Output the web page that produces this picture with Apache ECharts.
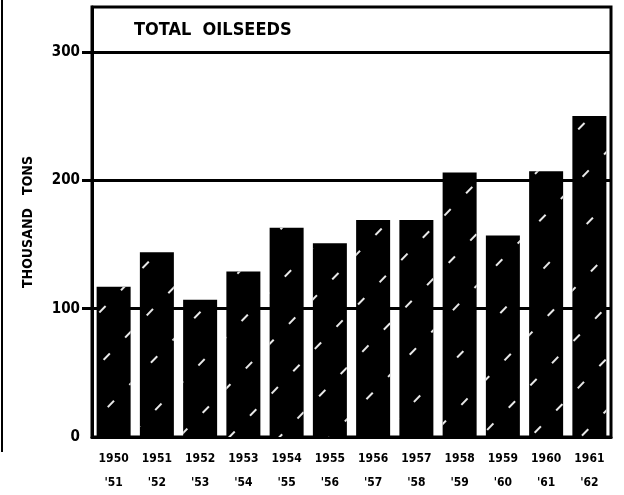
<!DOCTYPE html>
<html>
<head>
<meta charset="utf-8">
<script src="https://cdn.jsdelivr.net/npm/echarts@6/dist/echarts.min.js"></script>
<style>
  html, body { margin: 0; padding: 0; background: #fff; }
  #chart { width: 624px; height: 495px; }
</style>
</head>
<body>
<div id="chart"></div>
<script>
// crop years, total oilseeds
var years = ['1950\n\'51', '1951\n\'52', '1952\n\'53', '1953\n\'54', '1954\n\'55', '1955\n\'56',
  '1956\n\'57', '1957\n\'58', '1958\n\'59', '1959\n\'60', '1960\n\'61', '1961\n\'62'];
var oilseeds = [117, 144, 107, 129, 163, 151, 169, 169, 206, 157, 207, 250];
var yLabels = [0, 100, 200, 300];
var yTicks = [100, 200, 300];

var chart = echarts.init(document.getElementById('chart'));
var font = '"DejaVu Sans Condensed", "DejaVu Sans", sans-serif';

var option = {
  backgroundColor: '#fff',
  animation: false,
  title: {
    text: 'TOTAL  OILSEEDS',
    left: 129,
    top: 16,
    textStyle: { fontFamily: font, fontWeight: 'bold', fontSize: 18, color: '#000' }
  },
  grid: {
    left: 92, right: 13, top: 7, bottom: 55,
    show: true, borderColor: '#000', borderWidth: 3
  },
  xAxis: {
    type: 'category',
    data: years,
    axisLine: { lineStyle: { color: '#000', width: 3 } },
    axisTick: { show: false },
    axisLabel: {
      color: '#000', fontFamily: font, fontWeight: 'bold', fontSize: 12,
      lineHeight: 24, margin: 10
    }
  },
  yAxis: {
    type: 'value',
    min: 0,
    max: 335,
    interval: 100,
    name: 'THOUSAND   TONS',
    nameLocation: 'middle',
    nameRotate: 90,
    nameGap: 57,
    nameTextStyle: { color: '#000', fontFamily: font, fontWeight: 'bold', fontSize: 14 },
    axisLine: { show: true, lineStyle: { color: '#000', width: 3 } },
    axisTick: { show: true, length: 10, customValues: yTicks, lineStyle: { color: '#000', width: 3 } },
    axisLabel: {
      color: '#000', fontFamily: font, fontWeight: 'bold', fontSize: 15, margin: 12,
      customValues: yLabels
    },
    splitLine: { lineStyle: { color: '#000', width: 3 } }
  },
  series: [{
    type: 'bar',
    data: oilseeds,
    barWidth: 34,
    itemStyle: {
      color: '#000',
      // sparse white streaks like the scanned hatching
      decal: {
        color: '#e8e8e8',
        dashArrayX: [9, 22],
        dashArrayY: [2, 34],
        rotation: -0.8
      }
    }
  }],
  graphic: [{
    type: 'line',
    shape: { x1: 2, y1: 0, x2: 2, y2: 452 },
    style: { stroke: '#000', lineWidth: 2 }
  }]
};

chart.setOption(option);
</script>
</body>
</html>
